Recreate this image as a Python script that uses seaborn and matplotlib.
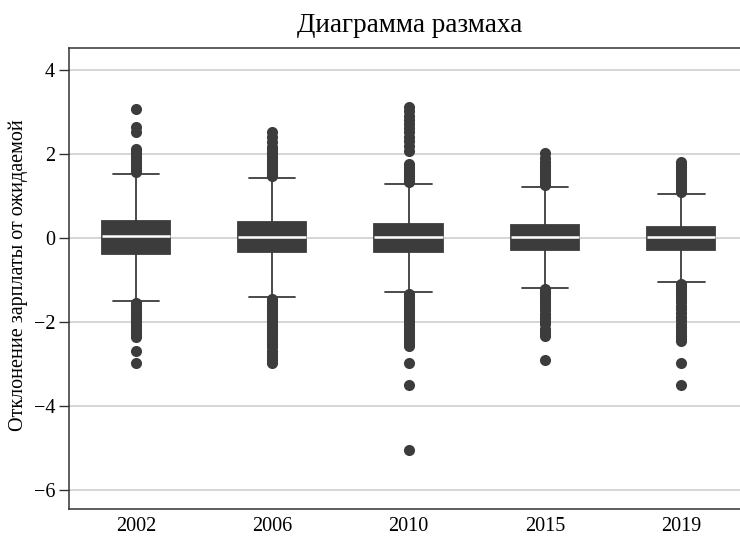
import numpy as np
import pandas as pd
import seaborn as sns
import matplotlib
matplotlib.use("Agg")
import matplotlib.pyplot as plt

years = ['2002', '2006', '2010', '2015', '2019']

# box summary
whisker_lo = [-1.51, -1.40, -1.30, -1.19, -1.06]
q1 = [-0.39, -0.35, -0.33, -0.29, -0.29]
median = [0.04, 0.01, 0.01, 0.02, 0.02]
q3 = [0.40, 0.37, 0.33, 0.30, 0.26]
whisker_hi = [1.51, 1.43, 1.28, 1.20, 1.04]

# outside values (dense columns are many overlapping points)
out_2002 = [3.07, 2.63, 2.53, 2.12, 2.07, 2.02, 1.97, 1.92, 1.87, 1.82, 1.77, 1.72, 1.67, 1.62, 1.57,
	-1.56, -1.61, -1.66, -1.71, -1.76, -1.81, -1.86, -1.91, -1.96, -2.01, -2.06, -2.11, -2.16,
	-2.21, -2.26, -2.31, -2.37, -2.69, -2.98]
out_2006 = [2.51, 2.39, 2.28, 2.17, 2.11, 2.05, 1.99, 1.93, 1.87, 1.81, 1.75, 1.69, 1.63, 1.57, 1.52, 1.47,
	-1.45, -1.51, -1.57, -1.63, -1.69, -1.75, -1.81, -1.87, -1.93, -1.99, -2.05, -2.11, -2.17,
	-2.23, -2.29, -2.35, -2.41, -2.47, -2.53, -2.61, -2.69, -2.77, -2.85, -2.92, -2.98]
out_2010 = [3.12, 3.01, 2.91, 2.81, 2.71, 2.61, 2.51, 2.41, 2.31, 2.19, 2.06,
	1.76, 1.71, 1.66, 1.61, 1.56, 1.51, 1.46, 1.41, 1.36, 1.32,
	-1.33, -1.39, -1.45, -1.51, -1.57, -1.63, -1.69, -1.75, -1.81, -1.87, -1.93, -1.99, -2.05,
	-2.11, -2.17, -2.23, -2.29, -2.35, -2.41, -2.47, -2.53, -2.58, -2.98, -3.51, -5.05]
out_2015 = [2.01, 1.90, 1.81, 1.74, 1.68, 1.62, 1.56, 1.50, 1.44, 1.38, 1.32, 1.26,
	-1.23, -1.29, -1.35, -1.41, -1.47, -1.53, -1.59, -1.65, -1.71, -1.82, -1.88, -1.94,
	-2.00, -2.06, -2.17, -2.23, -2.29, -2.34, -2.90]
out_2019 = [1.80, 1.74, 1.68, 1.62, 1.56, 1.50, 1.44, 1.38, 1.32, 1.26, 1.20, 1.14, 1.08,
	-1.10, -1.16, -1.22, -1.28, -1.34, -1.40, -1.46, -1.52, -1.62, -1.70, -1.80, -1.88,
	-1.96, -2.05, -2.12, -2.20, -2.27, -2.33, -2.39, -2.45, -2.98, -3.50]
outliers = [out_2002, out_2006, out_2010, out_2015, out_2019]

title = 'Диаграмма размаха'
ylabel = 'Отклонение зарплаты от ожидаемой'
yticks = [-6, -4, -2, 0, 2, 4]

dark = '#3c3c3c'


def main():
	sns.set_theme(style='white')
	plt.rcParams['font.family'] = ['Liberation Serif', 'DejaVu Serif']
	plt.rcParams['text.color'] = 'black'
	plt.rcParams['xtick.labelcolor'] = 'black'
	plt.rcParams['ytick.labelcolor'] = 'black'

	# five values per year give exactly the quartiles and whisker ends
	core = pd.DataFrame({
		'year': np.repeat(years, 5),
		'value': np.ravel(np.column_stack([whisker_lo, q1, median, q3, whisker_hi])),
	})
	outs = pd.DataFrame({
		'year': np.concatenate([[y] * len(o) for y, o in zip(years, outliers)]),
		'value': np.concatenate(outliers),
	})

	fig = plt.figure(figsize=(7.40, 5.37), dpi=100)
	ax = fig.add_axes([69 / 740, 1 - 509 / 537, 1 - 69 / 740, (509 - 48) / 537])

	sns.boxplot(data=core, x='year', y='value', order=years, ax=ax,
		width=0.5, color=dark, linecolor=dark, saturation=1, whis=(0, 100),
		showfliers=False, linewidth=1.3, capwidths=0.34,
		medianprops=dict(color='white', linewidth=1.8))
	sns.stripplot(data=outs, x='year', y='value', order=years, ax=ax,
		jitter=False, color=dark, size=8, linewidth=0)

	ax.set_ylim(-6.46, 4.52)
	ax.set_xlim(-0.49, 4.43)
	ax.set_yticks(yticks)
	ax.set_yticklabels(['\u2212' + str(-t) if t < 0 else str(t) for t in yticks])
	ax.yaxis.grid(True, color='#d2d2d2', linewidth=1.3)
	ax.xaxis.grid(False)
	ax.set_axisbelow(True)
	ax.set_xlabel('')
	ax.set_ylabel('')

	for side in ['left', 'bottom', 'top']:
		ax.spines[side].set_color('#333333')
		ax.spines[side].set_linewidth(1.1)
	ax.spines['right'].set_visible(False)

	ax.tick_params(axis='y', left=True, length=7, width=1, color='#333333', labelsize=14.5, pad=3)
	ax.tick_params(axis='x', bottom=False, length=0, labelsize=14.5, pad=6)

	fig.text(410 / 740, 1 - 25 / 537, title, ha='center', va='center', fontsize=19.5)
	fig.text(18 / 740, 1 - 275 / 537, ylabel, rotation=90, ha='center', va='center', fontsize=14.5)

	fig.savefig('out.png', dpi=100)


if __name__ == '__main__':
	main()
